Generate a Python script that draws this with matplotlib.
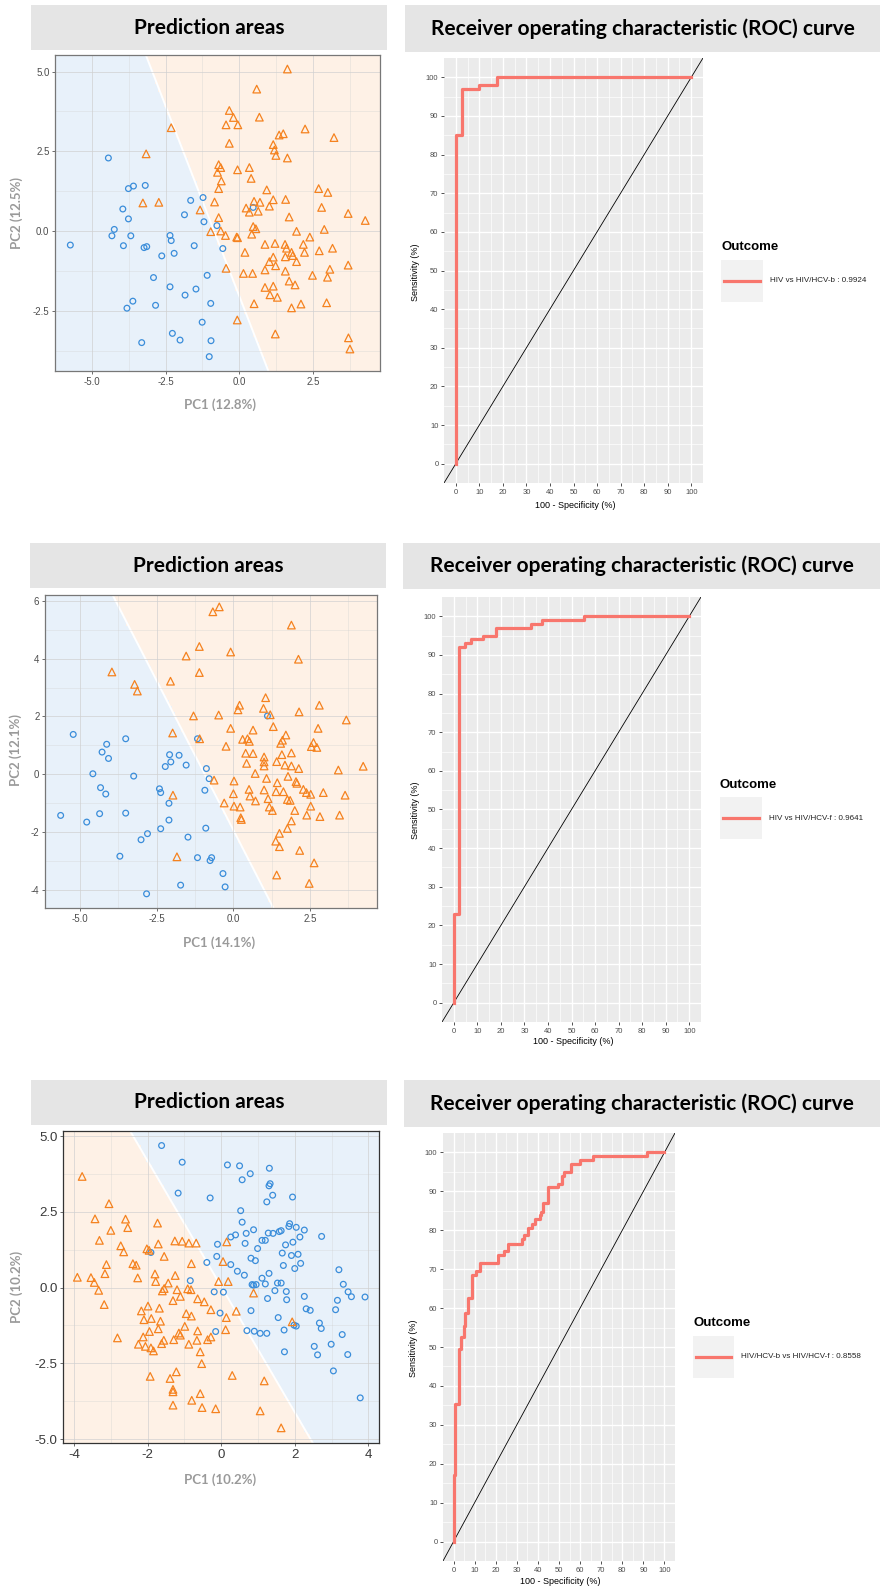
import numpy as np
import matplotlib
matplotlib.use('Agg')
import matplotlib.pyplot as plt
from matplotlib.colors import ListedColormap

plt.rcParams['axes.unicode_minus'] = False
plt.rcParams['font.family'] = ['Liberation Sans', 'DejaVu Sans']

# ---------------- data ----------------
p1_circles = [(-4.44, 2.29), (-5.73, -0.44), (-3.76, 1.33), (-3.59, 1.41), (-3.19, 1.43), (-3.95, 0.69),
              (-3.76, 0.38), (-4.24, 0.05), (-4.32, -0.15), (-3.68, -0.15), (-3.93, -0.46), (-3.23, -0.52),
              (-3.14, -0.49), (-2.35, -0.14), (-2.31, -0.30), (-2.63, -0.78), (-2.21, -0.70), (-2.91, -1.46),
              (-2.35, -1.75), (-2.84, -2.33), (-3.61, -2.20), (-3.81, -2.42), (-3.31, -3.50), (-2.27, -3.21),
              (-2.01, -3.42), (-1.84, -2.01), (-1.47, -1.82), (-1.53, -0.46), (-1.86, 0.51), (-1.65, 0.96),
              (-1.23, 1.05), (-1.20, 0.29), (-1.09, -1.39), (-0.97, -2.27), (-1.26, -2.86), (-0.96, -3.44),
              (-1.02, -3.94), (-0.76, 0.17), (-0.56, -0.55), (0.47, 0.74)]
p1_triangles = [(1.63, 5.08), (0.59, 4.45), (-0.34, 3.78), (-0.20, 3.56), (-0.45, 3.33), (-0.05, 3.33),
                (0.68, 3.57), (-2.31, 3.24), (2.23, 3.20), (3.21, 2.93), (1.35, 3.01), (1.49, 3.05),
                (-0.34, 2.75), (1.15, 2.71), (1.19, 2.54), (1.24, 2.37), (1.63, 2.29), (-3.16, 2.42),
                (-0.70, 2.08), (-0.63, 1.99), (-0.74, 1.84), (-0.06, 1.92), (0.34, 1.99), (0.40, 1.65),
                (-0.61, 1.57), (-0.70, 1.33), (2.69, 1.33), (3.0, 1.21), (0.93, 1.29), (-3.27, 0.88),
                (-2.73, 0.90), (-0.84, 0.91), (-1.33, 0.66), (-0.70, 0.42), (-0.97, -0.02), (-0.63, 0.0),
                (-0.47, -0.14), (-0.09, -0.19), (-0.06, -0.21), (0.23, 0.72), (0.34, 0.59), (0.50, 0.93),
                (0.64, 0.62), (0.70, 0.90), (1.02, 0.78), (1.15, 0.98), (1.57, 0.99), (1.69, 0.44),
                (0.47, 0.14), (0.56, 0.07), (0.42, -0.10), (2.79, 0.74), (3.69, 0.55), (4.27, 0.33),
                (2.88, 0.05), (1.94, -0.01), (2.39, -0.19), (0.87, -0.42), (1.21, -0.39), (1.55, -0.42),
                (1.60, -0.54), (2.17, -0.42), (0.19, -0.67), (2.21, -0.67), (1.77, -0.67), (1.81, -0.77),
                (1.56, -0.81), (1.15, -0.82), (2.71, -0.62), (3.16, -0.54), (1.02, -0.96), (1.23, -1.09),
                (1.94, -0.96), (3.69, -1.07), (-0.45, -1.17), (0.14, -1.33), (0.45, -1.33), (0.87, -1.22),
                (1.56, -1.26), (3.07, -1.20), (2.99, -1.45), (2.48, -1.39), (1.69, -1.57), (1.89, -1.69),
                (0.87, -1.77), (1.15, -1.73), (1.04, -2.00), (1.29, -2.08), (0.50, -2.28), (1.77, -2.41),
                (2.09, -2.29), (2.96, -2.25), (-0.07, -2.79), (1.22, -3.23), (3.70, -3.35), (3.75, -3.70)]
p1_boundary = [(-3.17, 5.52), (0.98, -4.38)]

p2_circles = [(-5.22, 1.38), (-5.63, -1.42), (-4.78, -1.65), (-4.58, 0.02), (-4.28, 0.77), (-4.13, 1.04),
              (-4.07, 0.55), (-4.33, -0.46), (-4.16, -0.68), (-4.36, -1.36), (-3.51, 1.23), (-3.25, -0.06),
              (-3.51, -1.34), (-3.70, -2.83), (-3.01, -2.26), (-2.80, -2.05), (-2.83, -4.13), (-2.41, -0.50),
              (-2.37, -0.63), (-2.22, 0.27), (-2.08, 0.68), (-2.04, 0.43), (-1.77, 0.66), (-1.54, 0.32),
              (-2.10, -1.0), (-2.10, -1.58), (-2.37, -1.88), (-1.48, -2.17), (-1.72, -3.83), (-1.17, -2.88),
              (-1.17, 1.23), (-0.88, 0.20), (-0.79, -0.15), (-0.93, -0.55), (-0.90, -1.86), (-0.71, -2.88),
              (-0.76, -2.98), (-0.34, -3.43), (-0.27, -3.89), (1.11, 2.02)]
p2_triangles = [(-0.46, 5.79), (-0.67, 5.62), (1.89, 5.16), (-1.11, 4.42), (-1.54, 4.09), (-0.09, 4.23),
                (2.12, 3.98), (-3.96, 3.54), (-1.11, 3.52), (-2.05, 3.22), (-3.22, 3.11), (-3.13, 2.88),
                (1.05, 2.65), (0.20, 2.39), (0.15, 2.23), (0.98, 2.28), (1.20, 2.06), (2.14, 2.16),
                (2.80, 2.39), (-1.30, 2.02), (-0.48, 2.05), (3.68, 1.88), (-0.09, 1.59), (1.30, 1.65),
                (0.64, 1.53), (2.76, 1.59), (-1.98, 1.43), (-1.10, 1.23), (0.30, 1.21), (0.46, 1.23),
                (0.52, 1.14), (1.71, 1.36), (1.60, 1.18), (1.54, 1.07), (2.61, 1.10), (2.54, 0.96),
                (2.72, 0.93), (-0.24, 0.97), (0.40, 0.73), (0.64, 0.72), (1.0, 0.60), (1.0, 0.43),
                (1.0, 0.29), (1.58, 0.68), (1.89, 0.74), (1.41, 0.44), (1.68, 0.32), (1.89, 0.29),
                (2.13, 0.20), (4.23, 0.28), (3.42, 0.15), (0.43, 0.38), (0.71, 0.03), (-0.63, -0.20),
                (0.02, -0.23), (1.08, -0.14), (1.78, -0.07), (2.07, -0.31), (2.04, -0.25), (1.43, -0.29),
                (2.28, -0.52), (2.38, -0.63), (2.52, -0.69), (2.93, -0.63), (3.64, -0.72), (0.51, -0.52),
                (1.00, -0.54), (1.39, -0.60), (1.63, -0.60), (0.54, -0.75), (0.0, -0.67), (-1.97, -0.72),
                (1.13, -0.84), (1.76, -0.87), (1.85, -0.90), (0.72, -0.92), (-0.30, -0.99), (0.02, -1.10),
                (0.22, -1.13), (1.17, -1.13), (1.27, -1.25), (2.0, -1.25), (2.52, -1.10), (0.24, -1.50),
                (0.26, -1.56), (2.39, -1.41), (2.82, -1.46), (3.46, -1.41), (1.89, -1.61), (1.76, -1.87),
                (1.50, -2.04), (1.38, -2.31), (1.50, -2.50), (2.16, -2.63), (2.63, -3.06), (-1.84, -2.85),
                (1.41, -3.48), (2.47, -3.77)]
p2_boundary = [(-3.95, 6.23), (1.30, -4.61)]

p3_circles = [(-1.62, 4.69), (-1.06, 4.14), (0.17, 4.05), (0.50, 4.02), (0.79, 3.76), (1.31, 3.94),
              (0.57, 3.56), (1.33, 3.43), (1.30, 3.36), (1.40, 3.05), (-1.17, 3.12), (-0.30, 2.96),
              (1.24, 2.83), (1.94, 2.99), (0.53, 2.54), (0.57, 2.16), (1.86, 2.11), (1.84, 2.02),
              (2.04, 1.99), (2.26, 1.90), (0.88, 1.91), (0.68, 1.79), (0.39, 1.74), (0.26, 1.67),
              (1.28, 1.80), (1.41, 1.79), (1.58, 1.85), (1.63, 1.88), (2.14, 1.67), (2.73, 1.69),
              (-0.10, 1.43), (0.65, 1.46), (1.11, 1.56), (1.20, 1.56), (1.75, 1.41), (1.95, 1.50),
              (0.99, 1.29), (-1.91, 1.16), (-0.12, 1.03), (0.81, 0.97), (0.93, 0.89), (1.66, 1.14),
              (1.91, 1.06), (2.09, 1.10), (-0.39, 0.83), (0.26, 0.76), (0.44, 0.54), (0.63, 0.41),
              (1.69, 0.73), (2.0, 0.63), (2.16, 0.80), (1.30, 0.47), (3.20, 0.59), (1.11, 0.31),
              (-0.84, 0.23), (0.84, 0.10), (0.88, 0.08), (0.95, 0.10), (1.20, 0.12), (1.53, 0.15),
              (1.63, 0.15), (3.32, 0.11), (-0.19, -0.14), (0.06, -0.15), (1.46, -0.10), (1.77, -0.13),
              (3.45, -0.14), (3.54, -0.30), (3.91, -0.31), (2.26, -0.29), (1.26, -0.36), (1.78, -0.40),
              (3.16, -0.42), (2.31, -0.70), (2.42, -0.75), (3.11, -0.73), (0.81, -0.76), (-0.03, -0.84),
              (1.55, -0.99), (-0.15, -1.45), (0.70, -1.42), (0.90, -1.44), (1.06, -1.51), (1.24, -1.51),
              (1.71, -1.40), (1.98, -1.24), (2.04, -1.27), (2.67, -1.17), (2.72, -1.35), (3.29, -1.55),
              (1.72, -2.12), (2.53, -1.94), (2.62, -2.22), (2.99, -1.87), (3.44, -2.21), (3.05, -2.75),
              (3.78, -3.64)]
p3_triangles = [(-3.78, 3.67), (-3.05, 2.77), (-3.43, 2.27), (-2.60, 2.26), (-3.00, 1.89), (-2.54, 1.98),
                (-1.73, 2.13), (-3.31, 1.56), (-2.73, 1.38), (-2.65, 1.18), (-2.02, 1.28), (-1.96, 1.23),
                (-1.71, 1.44), (-1.26, 1.54), (-1.06, 1.53), (-0.88, 1.47), (-0.68, 1.47), (0.15, 1.51),
                (-1.55, 1.03), (-3.12, 0.76), (-3.16, 0.46), (-2.40, 0.79), (-2.31, 0.74), (-0.81, 0.79),
                (0.05, 0.86), (-3.91, 0.34), (-3.54, 0.33), (-3.45, 0.17), (-3.33, -0.09), (-2.27, 0.32),
                (-1.80, 0.45), (-1.78, 0.20), (-1.25, 0.40), (-1.44, 0.15), (-1.55, -0.03), (-1.60, -0.11),
                (-1.20, -0.07), (-0.91, -0.04), (-0.82, -0.07), (-0.07, 0.20), (0.19, 0.20), (-3.18, -0.56),
                (-1.11, -0.29), (-1.31, -0.43), (-0.64, -0.37), (-0.46, -0.47), (-0.28, -0.73), (0.41, -0.78),
                (0.88, -0.18), (-1.99, -0.61), (-1.68, -0.68), (-2.17, -0.77), (-0.95, -0.86), (-0.81, -0.94),
                (-2.10, -1.06), (-1.90, -1.02), (-1.65, -1.11), (0.14, -0.99), (-0.99, -1.28), (-1.71, -1.36),
                (-1.95, -1.45), (-1.15, -1.50), (-0.64, -1.43), (0.12, -1.39), (-1.11, -1.57), (-2.82, -1.66),
                (-2.12, -1.63), (-1.29, -1.72), (-1.56, -1.74), (-1.62, -1.85), (-0.66, -1.74), (-0.37, -1.72),
                (-0.28, -1.63), (-2.25, -1.87), (-2.06, -1.94), (-1.91, -1.99), (-1.84, -2.09), (-0.88, -1.87),
                (1.93, -1.13), (-0.57, -2.12), (-0.53, -2.51), (-1.93, -2.93), (-1.39, -3.00), (-1.22, -2.78),
                (-1.31, -3.36), (-1.31, -3.44), (-0.80, -3.72), (-0.57, -3.50), (-1.31, -3.88), (-0.52, -3.96),
                (-0.15, -4.00), (0.30, -2.90), (1.17, -3.08), (1.06, -4.07), (1.63, -4.63)]
p3_boundary = [(-2.47, 5.16), (2.49, -5.13)]

pc_labels = [('PC1 (12.8%)', 'PC2 (12.5%)'), ('PC1 (14.1%)', 'PC2 (12.1%)'), ('PC1 (10.2%)', 'PC2 (10.2%)')]

# ROC curves: 100 - specificity where sensitivity jumps, sensitivity after the jump
roc1_fpr = [0, 0, 2.8, 10, 17.5, 100]
roc1_tpr = [0, 85, 97, 98, 100, 100]
roc2_fpr = [0, 0, 2.4, 4.9, 7.4, 12.4, 17.8, 32.6, 37.6, 55.5, 100]
roc2_tpr = [0, 23, 92, 93, 94, 95, 97, 98, 99, 100, 100]
roc3_fpr = [0, 0, 0.8, 2.4, 2.8, 3.6, 5.1, 5.6, 6.8, 8.7, 10.6, 12.6, 21, 24, 26, 32.4, 33.5, 35.5,
            37.4, 38.5, 40.8, 41.7, 42.3, 44.7, 49.4, 51.3, 52.5, 55.6, 60, 66, 91.6, 100]
roc3_tpr = [0, 17, 35.4, 42.5, 49.5, 52.5, 55.5, 58.7, 62.5, 68.5, 69.5, 71.6, 73.6, 74.7, 76.6, 77.8,
            78.8, 80.6, 81.6, 82.8, 83.8, 84.8, 86.9, 91, 92, 94, 95, 97, 98, 99, 100, 100]
roc_labels = ['HIV vs HIV/HCV-b : 0.9924', 'HIV vs HIV/HCV-f : 0.9641', 'HIV/HCV-b vs HIV/HCV-f : 0.8558']

# ---------------- styling ----------------
BLUE = '#3A8DDA'
ORANGE = '#F5821F'
BLUE_BG = '#E8F1FA'
ORANGE_BG = '#FEF1E6'
ROC_RED = '#F8766D'

W, H = 882, 1596
fig = plt.figure(figsize=(W / 100, H / 100), dpi=100)


def add_px(x0, y0, x1, y1):
    return fig.add_axes([x0 / W, 1 - y1 / H, (x1 - x0) / W, (y1 - y0) / H])


def ftext(x, y, s, **kw):
    fig.text(x / W, 1 - y / H, s, **kw)


def title_box(box, text):
    ax = add_px(*box)
    ax.set_facecolor('#E5E5E5')
    ax.set_xticks([])
    ax.set_yticks([])
    for s in ax.spines.values():
        s.set_visible(False)
    ax.text(0.5, 0.5, text, ha='center', va='center', fontsize=15, fontweight='bold',
            family='Lato', transform=ax.transAxes)


def pca_panel(box, xlim, ylim, xticks, yticks, xfmt, yfmt, circles, triangles, boundary,
              left_col, right_col, tick_size, tick_col, frame_col):
    ax = add_px(*box)
    (x0, y0), (x1, y1) = boundary
    gx = np.linspace(xlim[0], xlim[1], 111)
    gy = np.linspace(ylim[0], ylim[1], 111)
    GX, GY = np.meshgrid((gx[:-1] + gx[1:]) / 2, (gy[:-1] + gy[1:]) / 2)
    cross = (x1 - x0) * (GY - y0) - (y1 - y0) * (GX - x0)
    side = (cross > 0).astype(float)
    ax.pcolormesh(gx, gy, side, cmap=ListedColormap([left_col, right_col]), vmin=0, vmax=1,
                  shading='flat', zorder=0)
    t = np.array([-0.5, 1.5])
    ax.plot(x0 + t * (x1 - x0), y0 + t * (y1 - y0), color='white', lw=1.4, zorder=1)

    ax.set_xticks(xticks)
    ax.set_yticks(yticks)
    ax.set_xticklabels([xfmt.format(v) for v in xticks])
    ax.set_yticklabels([yfmt.format(v) for v in yticks])
    dx = (xticks[1] - xticks[0]) / 2
    dy = (yticks[1] - yticks[0]) / 2
    ax.set_xticks(np.arange(xticks[0] - dx, xlim[1], 2 * dx), minor=True)
    ax.set_yticks(np.arange(yticks[0] - dy, ylim[1], 2 * dy), minor=True)
    ax.grid(which='major', color='#D0D0D0', lw=0.6, alpha=0.8, zorder=1)
    ax.grid(which='minor', color='#D0D0D0', lw=0.4, alpha=0.6, zorder=1)
    ax.tick_params(which='minor', length=0)
    ax.tick_params(which='major', length=2.5, width=0.6, color='#555555', labelsize=tick_size,
                   labelcolor=tick_col, pad=1.5)

    c = np.array(circles)
    tr = np.array(triangles)
    ax.scatter(c[:, 0], c[:, 1], s=17, marker='o', facecolors='none', edgecolors=BLUE,
               linewidths=0.9, zorder=3)
    ax.scatter(tr[:, 0], tr[:, 1], s=30, marker='^', facecolors='none', edgecolors=ORANGE,
               linewidths=0.9, zorder=3)
    ax.set_xlim(xlim)
    ax.set_ylim(ylim)
    for s in ax.spines.values():
        s.set_color(frame_col)
        s.set_linewidth(0.9)
    return ax


def roc_panel(box, fpr, tpr):
    ax = add_px(*box)
    ax.set_facecolor('#EBEBEB')
    for s in ax.spines.values():
        s.set_visible(False)
    ax.set_xticks(range(0, 101, 10))
    ax.set_yticks(range(0, 101, 10))
    ax.set_xticks(range(5, 101, 10), minor=True)
    ax.set_yticks(range(5, 101, 10), minor=True)
    ax.grid(which='major', color='white', lw=1.0)
    ax.grid(which='minor', color='white', lw=0.5)
    ax.set_axisbelow(True)
    ax.tick_params(which='minor', length=0)
    ax.tick_params(which='major', length=2.5, width=0.6, color='#333333', labelsize=5.5,
                   labelcolor='#4D4D4D', pad=1.5)
    ax.plot([-10, 110], [-10, 110], color='black', lw=0.6, zorder=2)
    ax.plot(fpr, tpr, drawstyle='steps-post', color=ROC_RED, lw=2.3, zorder=3)
    ax.set_xlim(-5, 105)
    ax.set_ylim(-5, 105)
    return ax


def roc_legend(title_xy, key_box, label):
    ftext(title_xy[0], title_xy[1], 'Outcome', fontsize=9.5, fontweight='bold', ha='left', va='center')
    k = add_px(*key_box)
    k.set_facecolor('#F2F2F2')
    k.set_xticks([])
    k.set_yticks([])
    for s in k.spines.values():
        s.set_visible(False)
    k.plot([0.08, 0.92], [0.5, 0.5], color=ROC_RED, lw=2.3)
    k.set_xlim(0, 1)
    k.set_ylim(0, 1)
    ftext(key_box[2] + 7, (key_box[1] + key_box[3]) / 2, label, fontsize=5.8, ha='left', va='center',
          color='#222222')


# ---------------- row 1 ----------------
title_box((31, 5, 387, 50), 'Prediction areas')
pca_panel((55, 55, 380, 371), (-6.25, 4.77), (-4.39, 5.52), [-5.0, -2.5, 0.0, 2.5], [-2.5, 0.0, 2.5, 5.0],
          '{:.1f}', '{:.1f}', p1_circles, p1_triangles, p1_boundary, BLUE_BG, ORANGE_BG, 7, '#4D4D4D', '#777777')
ftext(220, 405, pc_labels[0][0], fontsize=9.5, fontweight='bold', family='Lato', color='#9A9A9A',
      ha='center', va='center')
ftext(17, 213, pc_labels[0][1], fontsize=9.5, fontweight='bold', family='Lato', color='#9A9A9A',
      ha='center', va='center', rotation=90)

title_box((405, 5, 880, 52), 'Receiver operating characteristic (ROC) curve')
roc_panel((444, 58, 703, 483), roc1_fpr, roc1_tpr)
ftext(575, 505, '100 - Specificity (%)', fontsize=6.5, ha='center', va='center')
ftext(416, 272, 'Sensitivity (%)', fontsize=6.5, ha='center', va='center', rotation=90)
roc_legend((721, 247), (721, 260, 763, 302), roc_labels[0])

# ---------------- row 2 ----------------
title_box((30, 543, 386, 588), 'Prediction areas')
pca_panel((45, 595, 377, 908), (-6.14, 4.68), (-4.62, 6.2), [-5.0, -2.5, 0.0, 2.5], [-4, -2, 0, 2, 4, 6],
          '{:.1f}', '{:d}', p2_circles, p2_triangles, p2_boundary, BLUE_BG, ORANGE_BG, 7, '#4D4D4D', '#777777')
ftext(219, 943, pc_labels[1][0], fontsize=9.5, fontweight='bold', family='Lato', color='#9A9A9A',
      ha='center', va='center')
ftext(16, 750, pc_labels[1][1], fontsize=9.5, fontweight='bold', family='Lato', color='#9A9A9A',
      ha='center', va='center', rotation=90)

title_box((403, 543, 880, 589), 'Receiver operating characteristic (ROC) curve')
roc_panel((442, 597, 701, 1022), roc2_fpr, roc2_tpr)
ftext(573, 1042, '100 - Specificity (%)', fontsize=6.5, ha='center', va='center')
ftext(415, 810, 'Sensitivity (%)', fontsize=6.5, ha='center', va='center', rotation=90)
roc_legend((720, 785), (720, 797, 762, 839), roc_labels[1])

# ---------------- row 3 ----------------
title_box((31, 1080, 387, 1125), 'Prediction areas')
pca_panel((63, 1131, 379, 1443), (-4.3, 4.29), (-5.13, 5.17), [-4, -2, 0, 2, 4], [-5.0, -2.5, 0.0, 2.5, 5.0],
          '{:d}', '{:.1f}', p3_circles, p3_triangles, p3_boundary, ORANGE_BG, BLUE_BG, 9.5, '#3A3A3A', '#333333')
ftext(220, 1480, pc_labels[2][0], fontsize=9.5, fontweight='bold', family='Lato', color='#9A9A9A',
      ha='center', va='center')
ftext(17, 1287, pc_labels[2][1], fontsize=9.5, fontweight='bold', family='Lato', color='#9A9A9A',
      ha='center', va='center', rotation=90)

title_box((404, 1080, 880, 1127), 'Receiver operating characteristic (ROC) curve')
roc_panel((443, 1133, 675, 1561), roc3_fpr, roc3_tpr)
ftext(560, 1582, '100 - Specificity (%)', fontsize=6.5, ha='center', va='center')
ftext(414, 1348, 'Sensitivity (%)', fontsize=6.5, ha='center', va='center', rotation=90)
roc_legend((693, 1323), (693, 1336, 734, 1378), roc_labels[2])

fig.savefig('out.png', dpi=100)
